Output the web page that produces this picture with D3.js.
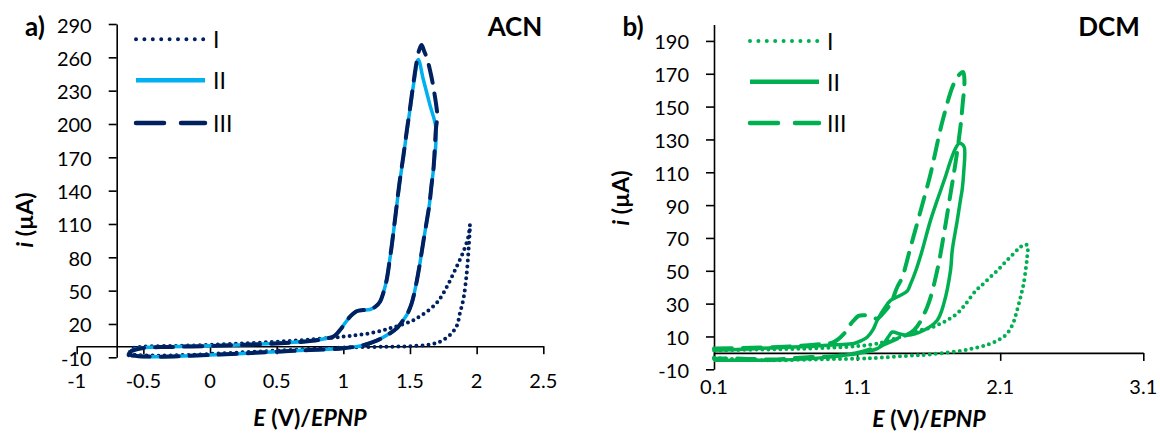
<!DOCTYPE html>
<html><head><meta charset="utf-8">
<script src="https://cdn.jsdelivr.net/npm/d3@7"></script>
<style>
body{margin:0;background:#fff}
svg{display:block}
text{font-family:Lato,'Open Sans',sans-serif;fill:#000}
</style>
</head><body><svg id="c" width="1160" height="437"></svg>
<script>
// ---------- DATA ----------
const seriesNames = ["I", "II", "III"];
const xTicksACN = [-1, -0.5, 0, 0.5, 1, 1.5, 2, 2.5];
const yTicksACN = [-10, 20, 50, 80, 110, 140, 170, 200, 230, 260, 290];
const xTicksDCM = [0.1, 1.1, 2.1, 3.1];
const yTicksDCM = [-10, 10, 30, 50, 70, 90, 110, 130, 150, 170, 190];

// ACN: [E (V), i (µA)]
const acnI = [[-0.61,-7],[-0.55,-8],[-0.4,-8.5],[-0.2,-8],[0,-7],[0.25,-5.5],[0.5,-4],[0.75,-2.5],[1.0,-1.2],[1.25,-0.6],[1.375,-0.4],[1.5,0],[1.625,1.1],[1.7,3],[1.75,5.6],[1.8,10],[1.85,18],[1.875,30],[1.9,42],[1.925,65],[1.94,88],[1.95,109],
  [1.9375,98.6],[1.9,85],[1.85,71.6],[1.8,59],[1.75,47.6],[1.7,39],[1.625,31],[1.55,25],[1.5,22],[1.375,17],[1.3,14.5],[1.2,11.6],[1.1,10],[1.0,8.6],[0.75,6],[0.5,4],[0.25,2.5],[0,1.2],[-0.25,0.3],[-0.5,-0.5],[-0.58,-2],[-0.61,-7]];
const acnII = [[-0.61,-8],[-0.59,-4],[-0.5,-1.5],[-0.3,-0.6],[0,0.3],[0.25,1.3],[0.5,2.6],[0.7,4.2],[0.85,6.5],[0.93,9],[0.975,14.6],[1.02,22],[1.05,26.6],[1.1,31.5],[1.15,32.5],[1.2,33],[1.24,35.5],[1.275,40],[1.3,48],[1.325,59.6],[1.345,75],[1.3625,89.6],[1.3875,113.6],[1.42,145],[1.45,170],[1.475,192],[1.5,213],[1.53,238],[1.562,258],[1.6,240],[1.65,217],[1.695,196],
  [1.675,158],[1.6625,146],[1.645,127],[1.625,112],[1.6,94],[1.575,75],[1.545,55],[1.5125,38.6],[1.48,29],[1.45,23.6],[1.4,16],[1.35,11.6],[1.25,5],[1.15,1],[1.0,-1.9],[0.75,-3.5],[0.5,-4.9],[0.25,-6.5],[0,-7.9],[-0.2,-8.9],[-0.375,-9.4],[-0.5,-9.2],[-0.61,-8]];
const acnIII = [[-0.61,-8],[-0.59,-4.5],[-0.5,-1.6],[-0.3,-0.7],[0,0.2],[0.25,1.2],[0.5,2.5],[0.7,4.1],[0.85,6.4],[0.93,9],[0.975,14.5],[1.02,22],[1.05,26.5],[1.1,31.5],[1.15,32.5],[1.2,33],[1.24,35.5],[1.275,40],[1.3,48],[1.325,59.6],[1.345,75],[1.3625,90],[1.3875,114],[1.42,146],[1.45,171],[1.475,193],[1.5,214],[1.525,236],[1.55,256],[1.57,267],[1.587,271],[1.605,266],[1.63,258],[1.66,243],[1.68,230],[1.7,214],[1.705,207],[1.695,196],
  [1.675,158],[1.6625,146],[1.645,127],[1.625,112],[1.6,94],[1.575,75],[1.545,55],[1.5125,38.6],[1.48,29],[1.45,23.6],[1.4,16],[1.35,11.6],[1.25,5],[1.15,1],[1.0,-1.9],[0.75,-3.5],[0.5,-4.9],[0.25,-6.5],[0,-7.9],[-0.2,-8.9],[-0.375,-9.4],[-0.5,-9.2],[-0.61,-8]];

// DCM: [E (V), i (µA)]
const dcmI = [[0.1,-3],[0.3,-4],[0.5,-4.5],[0.8,-4],[1.1,-3.5],[1.265,-2.9],[1.45,-1.8],[1.613,-0.9],[1.846,1.6],[1.95,3.5],[2.032,5.7],[2.1,8.5],[2.148,11.7],[2.19,18],[2.218,25.9],[2.245,35],[2.264,42.2],[2.28,52],[2.288,58],[2.29,65.5],
  [2.27,66],[2.241,64.5],[2.2,61],[2.148,56.4],[2.09,51],[2.032,46.2],[1.97,41],[1.93,38],[1.86,30],[1.799,23.9],[1.74,20.5],[1.683,17.8],[1.62,15.5],[1.543,13.8],[1.48,11.5],[1.404,9.7],[1.3,7],[1.2,5],[1.0,3.5],[0.7,2.5],[0.4,2],[0.1,1.5]];
const dcmII = [[0.1,1.6],[0.3,2.2],[0.544,3.2],[0.8,4],[0.95,5],[1.078,5.7],[1.13,7.5],[1.172,9.7],[1.21,14],[1.241,19.9],[1.29,27],[1.334,32],[1.4,35],[1.449,37.5],[1.474,42],[1.51,50],[1.55,61],[1.613,80.7],[1.66,93],[1.72,108],[1.753,117],[1.785,124],[1.811,127.5],[1.835,127],[1.85,125],
  [1.845,110],[1.835,100],[1.822,93],[1.8,80.7],[1.765,62.5],[1.753,50.3],[1.706,30],[1.66,19.9],[1.567,13.8],[1.45,10.7],[1.4,11.5],[1.346,12.7],[1.32,10],[1.28,5],[1.241,2.6],[1.102,-0.4],[0.95,-2],[0.776,-3.5],[0.5,-4.5],[0.3,-4.5],[0.1,-4.5]];
const dcmIII = [[0.1,2.6],[0.3,3],[0.544,3.6],[0.8,5],[0.939,6.7],[1.009,11.7],[1.05,17],[1.078,19.9],[1.11,22.5],[1.148,22.9],[1.2,22],[1.241,20.9],[1.29,25],[1.334,30],[1.38,40],[1.416,46.2],[1.474,64.5],[1.532,82.8],[1.613,109],[1.695,140.6],[1.776,164],[1.82,170],[1.841,171],
  [1.85,166],[1.836,150],[1.822,137.6],[1.79,117],[1.753,97],[1.706,72],[1.66,50.3],[1.59,28],[1.497,13.8],[1.381,8.7],[1.241,3.6],[1.1,0],[0.95,-2],[0.776,-2.5],[0.5,-4],[0.3,-3.5],[0.1,-3.5]];

// ---------- DRAW ----------
const svg = d3.select("#c");

const panels = [
  { xDomain:[-1,2.5], xRange:[76.7,543.3], yDomain:[-10,290], yRange:[357.3,24], yAxisAt:-0.7,
    xTicks:xTicksACN, yTicks:yTicksACN, series:[acnI,acnII,acnIII],
    colors:["#002060","#00B0F0","#002060"], letter:"a)", letterX:35, solvent:"ACN", solventX:515,
    xLabelY:380, xTitle:[310,417], yTitle:[24,220], legendX:[136,205], legendY:[39.3,80.3,123], legendLabelX:213 },
  { xDomain:[0.1,3.1], xRange:[714,1143.3], yDomain:[-10,200], yRange:[369.3,24.5], yAxisAt:0.1,
    xTicks:xTicksDCM, yTicks:yTicksDCM, series:[dcmI,dcmII,dcmIII],
    colors:["#00B050","#00B050","#00B050"], letter:"b)", letterX:633, solvent:"DCM", solventX:1109,
    xLabelY:386, xTitle:[929,418], yTitle:[620,198], legendX:[750,819], legendY:[41,81.7,123], legendLabelX:827 }
];

const styles = [
  { w:4, dash:"0,6", cap:"round", lw:4, ldash:"0,8.4" },
  { w:3.5, dash:null, cap:"butt", lw:4.5, ldash:null },
  { w:4, dash:"18,11", cap:"round", lw:4.5, ldash:"28,17" }
];

panels.forEach(p => {
  const x = d3.scaleLinear(p.xDomain, p.xRange);
  const y = d3.scaleLinear(p.yDomain, p.yRange);
  const g = svg.append("g");
  const ax = x(p.yAxisAt), y0 = y(0);

  // x axis (at i = 0)
  const gx = g.append("g").attr("transform", `translate(0,${y0})`)
    .call(d3.axisBottom(x).tickValues(p.xTicks).tickSize(8).tickSizeOuter(0).tickFormat(""));
  gx.selectAll("path,line").attr("stroke","#000").attr("stroke-width",1.6);
  g.append("g").selectAll("text").data(p.xTicks).join("text")
    .attr("x", d => x(d)).attr("y", p.xLabelY)
    .attr("text-anchor","middle").attr("dominant-baseline","central")
    .attr("font-size",20).text(d => String(d));

  // y axis
  const gy = g.append("g").attr("transform", `translate(${ax},0)`)
    .call(d3.axisLeft(y).tickValues(p.yTicks).tickSize(8).tickSizeOuter(0).tickPadding(17).tickFormat(d => String(d)));
  gy.selectAll("path,line").attr("stroke","#000").attr("stroke-width",1.6);
  gy.selectAll("text").attr("font-size",20).attr("font-family","Lato,'Open Sans',sans-serif")
    .attr("dy",null).attr("dominant-baseline","central");

  // curves
  const line = d3.line().x(d => x(d[0])).y(d => y(d[1])).curve(d3.curveCatmullRom.alpha(0.5));
  p.series.forEach((s, k) => {
    const st = styles[k];
    const path = g.append("path").attr("d", line(s)).attr("fill","none")
      .attr("stroke", p.colors[k]).attr("stroke-width", st.w)
      .attr("stroke-linecap", st.cap).attr("stroke-linejoin","round");
    if (st.dash) path.attr("stroke-dasharray", st.dash);
  });

  // legend
  seriesNames.forEach((nm, k) => {
    const st = styles[k];
    const ly = p.legendY[k];
    const l = g.append("line").attr("x1", p.legendX[0]).attr("x2", p.legendX[1])
      .attr("y1", ly).attr("y2", ly).attr("stroke", p.colors[k]).attr("stroke-width", st.lw)
      .attr("stroke-linecap", st.cap);
    if (st.ldash) l.attr("stroke-dasharray", st.ldash);
    g.append("text").attr("x", p.legendLabelX).attr("y", ly).attr("dominant-baseline","central")
      .attr("font-size",23).text(nm);
  });

  // panel letter & solvent
  g.append("text").attr("x", p.letterX).attr("y", 36).attr("text-anchor","middle")
    .attr("font-size",26).attr("font-weight","bold").text(p.letter);
  g.append("text").attr("x", p.solventX).attr("y", 36).attr("text-anchor","middle")
    .attr("font-size",26).attr("font-weight","bold").text(p.solvent);

  // axis titles
  const xt = g.append("text").attr("x", p.xTitle[0]).attr("y", p.xTitle[1])
    .attr("text-anchor","middle").attr("dominant-baseline","central")
    .attr("font-size",23).attr("font-weight","bold");
  xt.append("tspan").attr("font-style","italic").text("E");
  xt.append("tspan").text(" (V)/");
  xt.append("tspan").attr("font-style","italic").text("EPNP");

  const yt = g.append("text").attr("transform", `translate(${p.yTitle[0]},${p.yTitle[1]}) rotate(-90)`)
    .attr("text-anchor","middle").attr("dominant-baseline","central")
    .attr("font-size",23).attr("font-weight","bold");
  yt.append("tspan").attr("font-style","italic").text("i");
  yt.append("tspan").text(" (µA)");
});
</script></body></html>
